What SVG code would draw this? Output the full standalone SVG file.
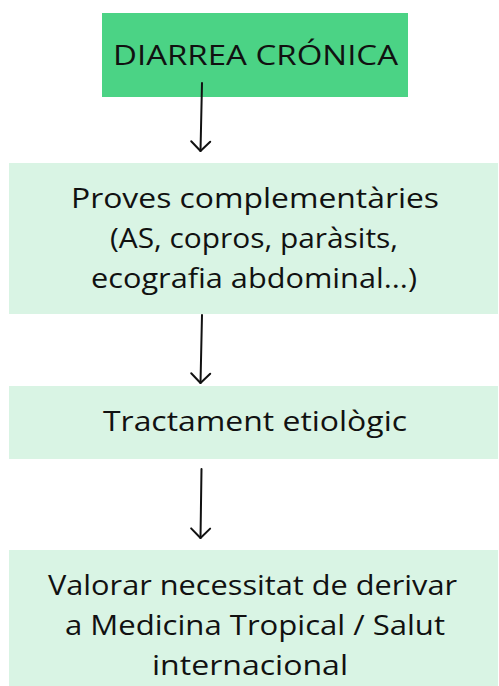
<svg xmlns="http://www.w3.org/2000/svg" width="499" height="686" viewBox="0 0 499 686">
<style>
.box{fill:#d9f4e4}
.top{fill:#4bd385}
text{font-family:"Open Sans","Noto Sans","Liberation Sans",sans-serif;font-size:27px;fill:#111;text-anchor:middle}
.b{font-weight:500}
.conn{stroke:#111;stroke-width:2;fill:none;stroke-linecap:round}
</style>
<defs>
<marker id="ah" markerUnits="userSpaceOnUse" markerWidth="24" markerHeight="24" viewBox="-12 -12 24 24" refX="0" refY="0" orient="auto">
<path d="M-9.5,-9.5 L0,0 L-9.5,9.5" stroke="#111" stroke-width="2" fill="none" stroke-linecap="round" stroke-linejoin="round"/>
</marker>
</defs>
<rect width="499" height="686" fill="#fff"/>
<g id="n1">
<rect class="top" x="102" y="13" width="306" height="84"/>
<text x="255.5" y="65" textLength="285" lengthAdjust="spacingAndGlyphs">DIARREA CRÓNICA</text>
</g>
<g id="n2">
<rect class="box" x="9" y="163" width="489" height="151"/>
<text class="b" x="255" y="208" textLength="368" lengthAdjust="spacingAndGlyphs">Proves complementàries</text>
<text x="254" y="248" textLength="288" lengthAdjust="spacingAndGlyphs">(AS, copros, paràsits,</text>
<text x="254" y="288" textLength="326" lengthAdjust="spacingAndGlyphs">ecografia abdominal...)</text>
</g>
<g id="n3">
<rect class="box" x="9" y="386" width="489" height="73"/>
<text x="255" y="431" textLength="304" lengthAdjust="spacingAndGlyphs">Tractament etiològic</text>
</g>
<g id="n4">
<rect class="box" x="9" y="550" width="489" height="136"/>
<text x="252.5" y="595" textLength="409" lengthAdjust="spacingAndGlyphs">Valorar necessitat de derivar</text>
<text x="255" y="635" textLength="380" lengthAdjust="spacingAndGlyphs">a Medicina Tropical / Salut</text>
<text x="250" y="675" textLength="196" lengthAdjust="spacingAndGlyphs">internacional</text>
</g>
<g id="connectors">
<path class="conn" d="M202,83 L200.5,151" marker-end="url(#ah)"/>
<path class="conn" d="M202,315 L200.5,383" marker-end="url(#ah)"/>
<path class="conn" d="M201.5,469 L200.5,538" marker-end="url(#ah)"/>
</g>
</svg>
